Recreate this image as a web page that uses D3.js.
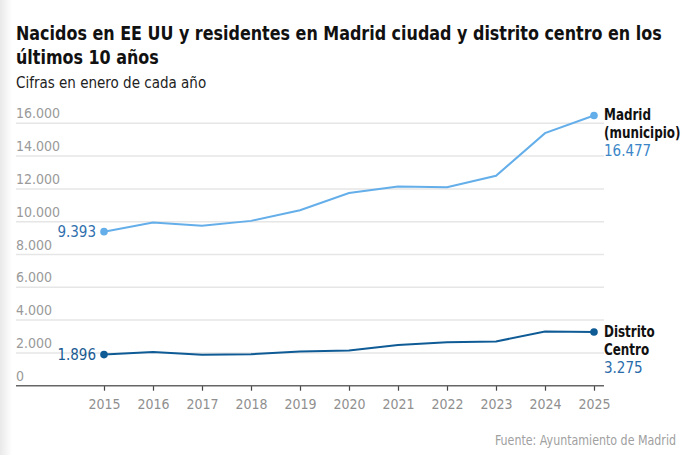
<!DOCTYPE html>
<html><head><meta charset="utf-8">
<script src="https://cdn.jsdelivr.net/npm/d3@7"></script>
<style>
body{margin:0;background:#fff;}
svg{display:block;}
text{font-family:"DejaVu Sans Condensed","Liberation Sans Narrow",sans-serif;}
</style></head>
<body>
<svg id="chart" width="690" height="455"></svg>
<script>
const years = [2015,2016,2017,2018,2019,2020,2021,2022,2023,2024,2025];
const madridValues = [9393,9950,9750,10050,10700,11750,12150,12100,12800,15400,16477];
const centroValues = [1896,2050,1880,1920,2080,2150,2480,2650,2700,3300,3275];
const yTicks = [0,2000,4000,6000,8000,10000,12000,14000,16000];
const titleLines = ["Nacidos en EE UU y residentes en Madrid ciudad y distrito centro en los","últimos 10 años"];
const subtitle = "Cifras en enero de cada año";
const source = "Fuente: Ayuntamiento de Madrid";
const seriesNames = [["Madrid","(municipio)"],["Distrito","Centro"]];

const svg = d3.select("#chart");
const defs = svg.append("defs");
const grad = defs.append("linearGradient").attr("id","lg").attr("x1","0").attr("x2","1");
grad.append("stop").attr("offset","0").attr("stop-color","#e9e9e9");
grad.append("stop").attr("offset","1").attr("stop-color","#ffffff");
svg.append("rect").attr("x",0).attr("y",0).attr("width",12).attr("height",455).attr("fill","url(#lg)");

// text placed at (px,py) and compressed horizontally by k
function ctext(px,py,k){
  return svg.append("text").attr("x",0).attr("y",0).attr("transform",`translate(${px},${py}) scale(${k},1)`);
}

const fmt = d3.formatLocale({decimal:",",thousands:".",grouping:[3],currency:["","€"]}).format(",d");

const x = d3.scaleLinear().domain([2015,2025]).range([104,594]);
const y = d3.scaleLinear().domain([0,16000]).range([385.7,123.3]);
const left = 16, right = 604;

// title
const tl = titleLines.map((l,i)=>ctext(16,40+i*24,1).attr("font-size",20).attr("font-weight","bold").attr("fill","#111").text(l));
const kT = 646/tl[0].node().getComputedTextLength();
tl.forEach((s,i)=>s.attr("transform",`translate(16,${40+i*24}) scale(${kT},1)`));
svg.append("text").attr("x",16).attr("y",88).attr("font-size",15).attr("fill","#222").text(subtitle);

// grid
const grid = svg.append("g");
yTicks.forEach(v=>{
  if(v>0) grid.append("line").attr("x1",left).attr("x2",right).attr("y1",y(v)).attr("y2",y(v)).attr("stroke","#e6e6e6").attr("stroke-width",1.5);
  grid.append("text").attr("x",left).attr("y",y(v)-5).attr("font-size",14).attr("fill","#9a9a9a").text(fmt(v));
});

// x axis
const xAxis = d3.axisBottom(x).tickValues(years).tickFormat(d3.format("d")).tickSize(5).tickPadding(8);
const gx = svg.append("g").attr("transform",`translate(0,${y(0)})`).call(xAxis);
gx.select(".domain").remove();
gx.selectAll(".tick line").attr("stroke","#444").attr("stroke-width",1.2);
gx.selectAll(".tick text").attr("font-size",14).attr("fill","#8f8f8f").attr("font-family",'"DejaVu Sans Condensed",sans-serif');
svg.append("line").attr("x1",left).attr("x2",right).attr("y1",y(0)).attr("y2",y(0)).attr("stroke","#666").attr("stroke-width",1.5);

const series = [
  {vals:madridValues, color:"#64aeea", label:"#2f6fae", endLabel:"#3c86c8", names:seriesNames[0]},
  {vals:centroValues, color:"#0f5b96", label:"#1a5a92", endLabel:"#2a6cab", names:seriesNames[1]}
];
const line = d3.line().x((d,i)=>x(years[i])).y(d=>y(d));
series.forEach(s=>{
  svg.append("path").datum(s.vals).attr("d",line).attr("fill","none").attr("stroke",s.color).attr("stroke-width",2);
  const n = s.vals.length-1;
  [0,n].forEach(i=>{
    svg.append("circle").attr("cx",x(years[i])).attr("cy",y(s.vals[i])).attr("r",3.8).attr("fill",s.color);
  });
  svg.append("text").attr("x",x(years[0])-8).attr("y",y(s.vals[0])+5).attr("text-anchor","end").attr("font-size",15).attr("fill",s.label).text(fmt(s.vals[0]));
  const ex = x(years[n])+10, ey = y(s.vals[n])+5;
  s.names.forEach((nm,j)=>{
    ctext(ex,ey+j*18,0.83).attr("font-size",16).attr("font-weight","bold").attr("fill","#111").text(nm);
  });
  svg.append("text").attr("x",ex).attr("y",ey+36).attr("font-size",15).attr("fill",s.endLabel).text(fmt(s.vals[n]));
});

ctext(676,445,0.88).attr("text-anchor","end").attr("font-size",14).attr("fill","#a0a0a0").text(source);
</script>
</body></html>
